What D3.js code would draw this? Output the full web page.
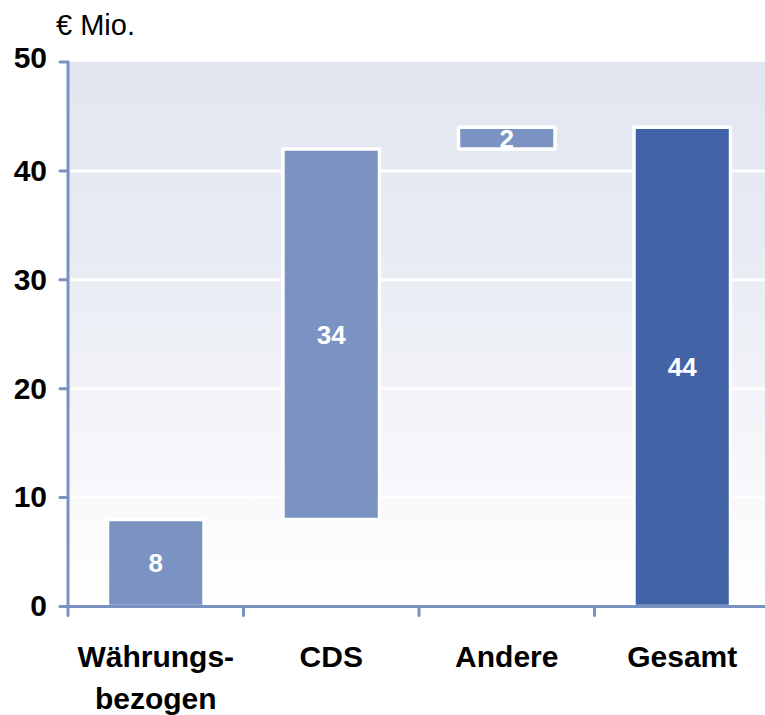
<!DOCTYPE html>
<html><head><meta charset="utf-8">
<script src="https://cdn.jsdelivr.net/npm/d3@7"></script>
<style>body{margin:0;background:#fff}svg{display:block}text{font-family:"Liberation Sans",Arial,sans-serif}</style>
</head><body><svg id="c" width="765" height="715"></svg>
<script>
const categories = [["Währungs-","bezogen"],["CDS"],["Andere"],["Gesamt"]];
const values = [8, 34, 2, 44];
const isTotal = [false, false, false, true];
const yTicks = [0, 10, 20, 30, 40, 50];
const unitLabel = "€ Mio.";

const svg = d3.select("#c");
const x0 = 68, x1 = 770, yB = 606.5, yT = 62;
const x = d3.scaleBand().domain(d3.range(categories.length)).range([x0, x1]).paddingInner(0.45).paddingOuter(0.225);
const xb = d3.scaleBand().domain(d3.range(categories.length)).range([x0, x1]);
const y = d3.scaleLinear().domain([0, 50]).range([yB, yT]);

const defs = svg.append("defs");
const g = defs.append("linearGradient").attr("id","bg").attr("x1",0).attr("y1",0).attr("x2",0).attr("y2",1);
g.append("stop").attr("offset","0%").attr("stop-color","#e2e6f0");
g.append("stop").attr("offset","35%").attr("stop-color","#e8ebf3");
g.append("stop").attr("offset","100%").attr("stop-color","#ffffff");

svg.append("rect").attr("x",x0).attr("y",yT).attr("width",x1-x0).attr("height",yB-yT).attr("fill","url(#bg)");

// gridlines
svg.append("g").selectAll("line").data(yTicks.filter(d=>d>0&&d<50)).join("line")
  .attr("x1",x0).attr("x2",x1).attr("y1",d=>y(d)).attr("y2",d=>y(d))
  .attr("stroke","#fff").attr("stroke-width",3);

// waterfall bases
let cum = 0;
const bars = values.map((v,i)=>{
  let lo, hi;
  if (isTotal[i]) { lo = 0; hi = v; }
  else { lo = cum; hi = cum + v; cum += v; }
  return {i, v, lo, hi, total: isTotal[i]};
});

svg.append("g").selectAll("rect").data(bars).join("rect")
  .attr("x",d=>x(d.i)).attr("width",x.bandwidth())
  .attr("y",d=>y(d.hi)).attr("height",d=>y(d.lo)-y(d.hi))
  .attr("fill",d=>d.total?"#4263a5":"#7a93c3")
  .attr("stroke","#fff").attr("stroke-width",3.5).attr("stroke-linejoin","round");

svg.append("g").selectAll("text").data(bars).join("text")
  .attr("x",d=>x(d.i)+x.bandwidth()/2)
  .attr("y",d=>(y(d.lo)+y(d.hi))/2)
  .attr("dy","0.36em").attr("text-anchor","middle")
  .attr("fill","#fff").attr("font-weight","bold").attr("font-size",26)
  .text(d=>d.v);

// axes
const axisColor = "#7a92c2";
const ax = svg.append("g").attr("stroke",axisColor).attr("stroke-width",3).attr("stroke-linecap","round");
ax.append("line").attr("x1",x0).attr("x2",x1).attr("y1",yB).attr("y2",yB);
ax.append("line").attr("x1",x0).attr("x2",x0).attr("y1",yT).attr("y2",yB+9);
ax.selectAll(".yt").data(yTicks).join("line").attr("class","yt")
  .attr("x1",x0-8).attr("x2",x0).attr("y1",d=>y(d)).attr("y2",d=>y(d));
ax.selectAll(".xt").data(d3.range(1,categories.length)).join("line").attr("class","xt")
  .attr("x1",d=>xb(d)).attr("x2",d=>xb(d)).attr("y1",yB).attr("y2",yB+9);

svg.append("g").selectAll("text").data(yTicks).join("text")
  .attr("x",47).attr("y",d=>y(d) - (d===50?5:1)).attr("dy","0.36em").attr("text-anchor","end")
  .attr("font-weight","bold").attr("font-size",30).attr("fill","#000").text(d=>d);

svg.append("text").attr("x",56).attr("y",35).attr("font-size",29).attr("fill","#000").text(unitLabel);

const cl = svg.append("g").selectAll("text").data(categories).join("text")
  .attr("x",(d,i)=>xb(i)+xb.bandwidth()/2).attr("y",667)
  .attr("text-anchor","middle").attr("font-weight","bold").attr("font-size",30).attr("fill","#000");
cl.selectAll("tspan").data(d=>d).join("tspan")
  .attr("x",function(){return this.parentNode.getAttribute("x");})
  .attr("dy",(d,i)=>i?42:0).text(d=>d);
</script></body></html>
